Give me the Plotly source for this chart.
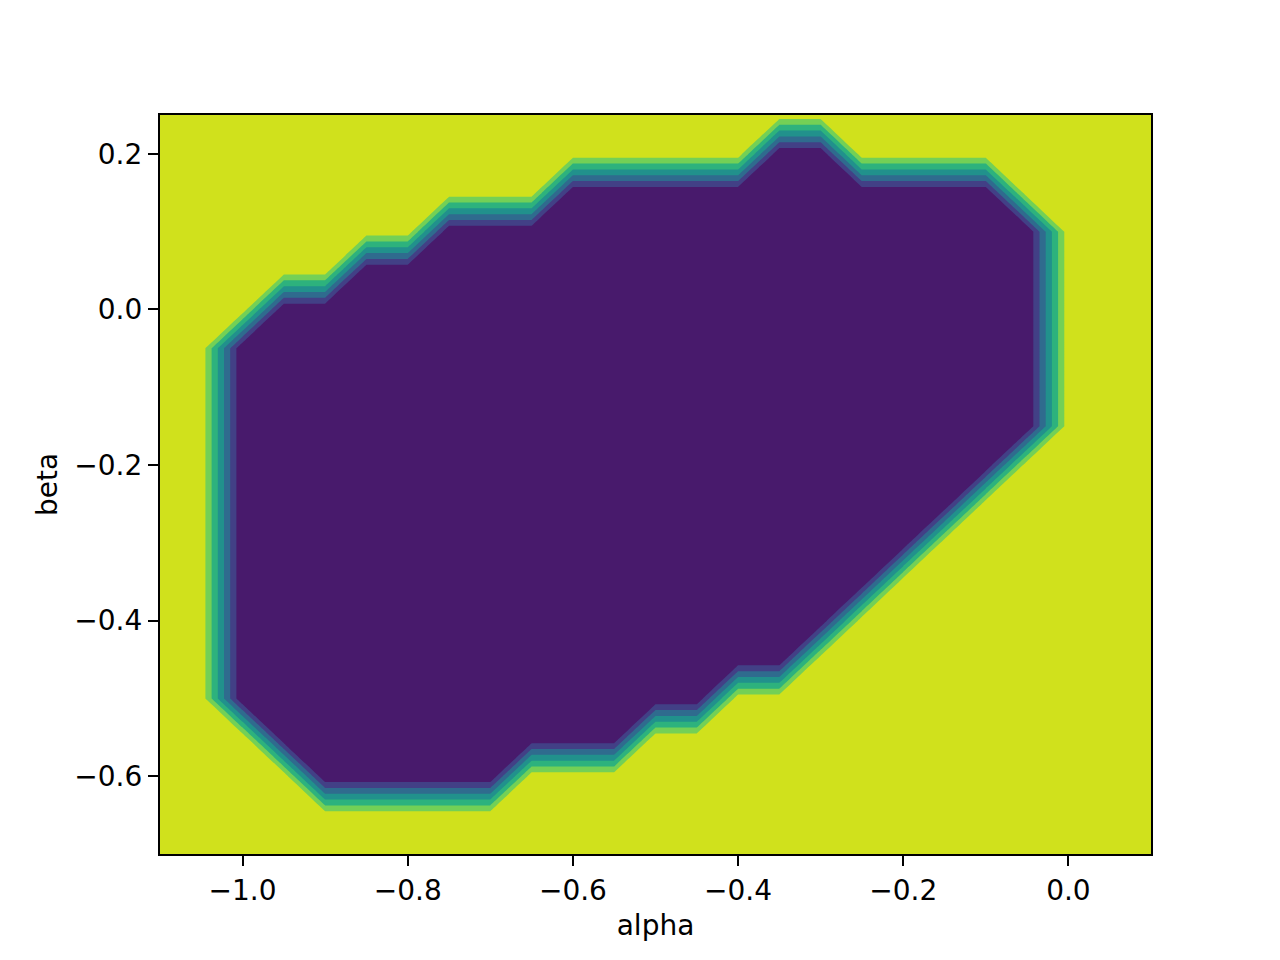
import numpy as np
import plotly.graph_objects as go

# Grid the score was evaluated on
alpha = np.round(np.linspace(-1.1, 0.1, 25), 2)
beta = np.round(np.linspace(-0.7, 0.25, 20), 2)

# Columns where the score is 0 (inside region), with lowest / highest beta
alpha_in = [-1.0, -0.95, -0.9, -0.85, -0.8, -0.75, -0.7, -0.65, -0.6, -0.55,
            -0.5, -0.45, -0.4, -0.35, -0.3, -0.25, -0.2, -0.15, -0.1, -0.05]
beta_top = [-0.05, 0.0, 0.0, 0.05, 0.05, 0.1, 0.1, 0.1, 0.15, 0.15,
            0.15, 0.15, 0.15, 0.2, 0.2, 0.15, 0.15, 0.15, 0.15, 0.1]
beta_bot = [-0.5, -0.55, -0.6, -0.6, -0.6, -0.6, -0.6, -0.55, -0.55, -0.55,
            -0.5, -0.5, -0.45, -0.45, -0.4, -0.35, -0.3, -0.25, -0.2, -0.15]

# score = 1 outside, 0 inside
z = np.ones((len(beta), len(alpha)))
for a, top, bot in zip(alpha_in, beta_top, beta_bot):
    j = int(np.argmin(np.abs(alpha - a)))
    rows = (beta >= bot - 1e-9) & (beta <= top + 1e-9)
    z[rows, j] = 0.0

# band colours (matplotlib viridis at the contourf layer midpoints)
band_colors = ["#481a6c", "#424086", "#2f6b8e", "#21918c", "#2db27d", "#73d056", "#d0e11c"]
cscale = [[i / 6, c] for i, c in enumerate(band_colors)]

fig = go.Figure(go.Contour(
    x=alpha, y=beta, z=z,
    autocontour=False,
    contours=dict(start=0.15, end=0.9, size=0.15, coloring="fill"),
    colorscale=cscale, line_width=0, line_smoothing=0, showscale=False,
))

font = dict(family="DejaVu Sans", size=28, color="black")
axis_common = dict(showline=True, linecolor="black", linewidth=2.2, mirror=True,
                   ticks="outside", ticklen=10, tickwidth=2.2, tickcolor="black",
                   showgrid=False, zeroline=False, tickfont=font, title_font=font)

fig.update_xaxes(range=[-1.1, 0.1], tickvals=[-1.0, -0.8, -0.6, -0.4, -0.2, 0.0],
                 tickformat=".1f", title_text="alpha", title_standoff=10, **axis_common)
fig.update_yaxes(range=[-0.7, 0.25], tickvals=[-0.6, -0.4, -0.2, 0.0, 0.2],
                 tickformat=".1f", title_text="beta", title_standoff=8, **axis_common)

# page body adds an 8px offset, so margins are shifted to compensate
fig.update_layout(width=1280, height=960, margin=dict(l=152, r=137, t=107, b=114),
                  plot_bgcolor="white", paper_bgcolor="white", font=font)

fig.write_html("out.html")
